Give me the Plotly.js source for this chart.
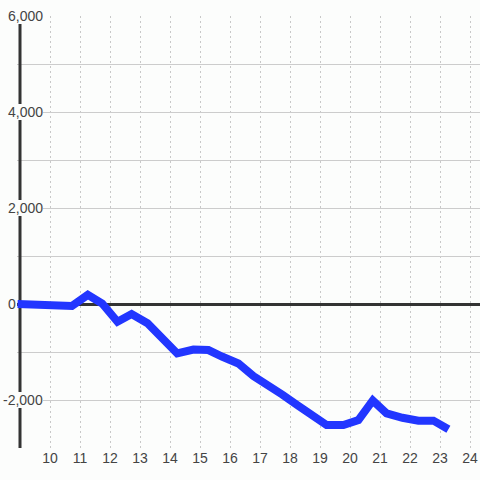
<!DOCTYPE html>
<html>
<head>
<meta charset="utf-8">
<script src="https://cdn.plot.ly/plotly-3.0.1.min.js"></script>
<style>html,body{margin:0;padding:0;background:#fcfdfc;}#chart{width:480px;height:480px;}</style>
</head>
<body>
<div id="chart"></div>
<script>
// Data
const xValues = [8.92, 9.75, 10.73, 11.26, 11.74, 12.25, 12.72, 13.25, 13.77, 14.24, 14.78, 15.28, 15.75, 16.28, 16.78, 17.22, 17.75, 18.25, 18.75, 19.22, 19.78, 20.28, 20.76, 21.22, 21.75, 22.28, 22.78, 23.28];
const yValues = [0, -10, -40, 190, 10, -370, -210, -400, -750, -1030, -950, -960, -1100, -1240, -1500, -1660, -1890, -2110, -2320, -2520, -2520, -2420, -2010, -2280, -2370, -2430, -2430, -2610];
const xTickVals = [10, 11, 12, 13, 14, 15, 16, 17, 18, 19, 20, 21, 22, 23, 24];
const xTickText = ['10', '11', '12', '13', '14', '15', '16', '17', '18', '19', '20', '21', '22', '23', '24'];
const yTickVals = [-2000, 0, 2000, 4000, 6000];
const yTickText = ['-2,000', '0', '2,000', '4,000', '6,000'];

const bg = '#fcfdfc';
const textColor = '#444';
const fontFamily = 'Liberation Sans, Arial, sans-serif';

const trace = {
  x: xValues,
  y: yValues,
  type: 'scatter',
  mode: 'lines',
  line: {color: '#2236ff', width: 8},
  hoverinfo: 'skip'
};

const annotations = yTickVals.map((v, i) => ({
  xref: 'paper', yref: 'y',
  x: -10 / 463, y: v,
  xanchor: 'left', yanchor: 'middle',
  xshift: yTickText[i].startsWith('-') ? -4 : 1,
  text: yTickText[i],
  showarrow: false,
  bgcolor: bg,
  borderpad: 0,
  borderwidth: 0,
  font: {size: 14, color: textColor, family: fontFamily}
}));

const layout = {
  width: 480, height: 480,
  margin: {l: 17, r: 0, t: 16, b: 32, pad: 0},
  paper_bgcolor: bg,
  plot_bgcolor: bg,
  showlegend: false,
  font: {family: fontFamily, size: 14, color: textColor},
  xaxis: {
    range: [8.9, 24.3333],
    tickmode: 'array',
    tickvals: xTickVals,
    ticktext: xTickText,
    showgrid: true,
    gridcolor: '#c8c8c8',
    gridwidth: 1,
    griddash: '2px,3px',
    zeroline: false,
    showline: false,
    ticks: '',
    tickfont: {size: 14, color: textColor, family: fontFamily}
  },
  yaxis: {
    range: [-3000, 6000],
    tick0: 0, dtick: 1000,
    showgrid: true,
    gridcolor: '#cccccc',
    gridwidth: 1,
    showticklabels: false,
    zeroline: true,
    zerolinecolor: '#333333',
    zerolinewidth: 3,
    showline: false,
    ticks: ''
  },
  shapes: [{
    type: 'line', xref: 'x', yref: 'y',
    x0: 9, x1: 9, y0: -3000, y1: 6000,
    line: {color: '#333333', width: 3},
    layer: 'between'
  }],
  annotations: annotations
};

Plotly.newPlot('chart', [trace], layout, {staticPlot: true, displayModeBar: false});
</script>
</body>
</html>
